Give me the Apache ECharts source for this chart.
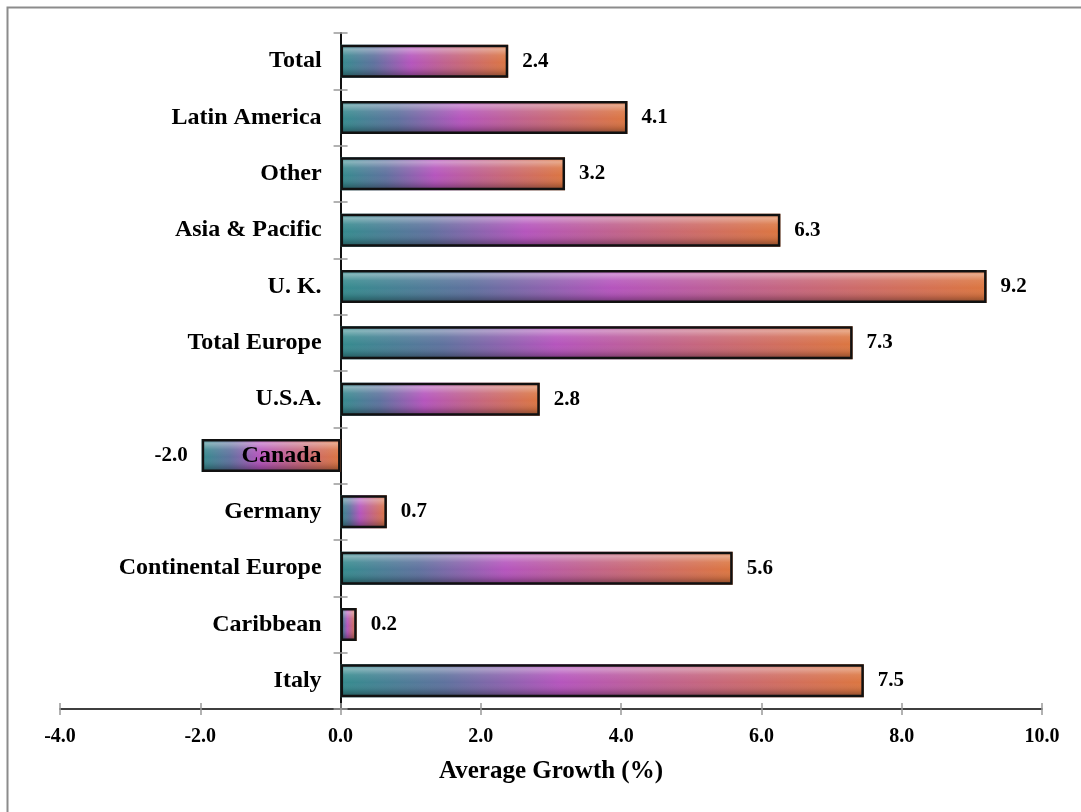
<!DOCTYPE html>
<html>
<head>
<meta charset="utf-8">
<title>Average Growth (%)</title>
<script src="https://cdn.jsdelivr.net/npm/echarts@6/dist/echarts.min.js"></script>
<style>
  html, body { margin: 0; padding: 0; background: #fff; }
  #chart { width: 1081px; height: 812px; }
</style>
</head>
<body>
<div id="chart"></div>
<script>
// categories listed top to bottom (axis is inverted)
const categories = [
  'Total', 'Latin America', 'Other', 'Asia & Pacific', 'U. K.', 'Total Europe',
  'U.S.A.', 'Canada', 'Germany', 'Continental Europe', 'Caribbean', 'Italy'
];
const growth = [2.39, 4.09, 3.2, 6.27, 9.21, 7.3, 2.84, -1.98, 0.66, 5.59, 0.23, 7.46];

const axisMin = -4;
const axisMax = 10;
const axisStep = 2;

const FONT = '"Liberation Serif", "Times New Roman", serif';

const chart = echarts.init(document.getElementById('chart'), null, { renderer: 'canvas' });

// left-to-right colour of every bar: teal -> magenta -> orange
const barFill = new echarts.graphic.LinearGradient(0, 0, 1, 0, [
  { offset: 0, color: '#358c8e' },
  { offset: 0.2, color: '#5f729e' },
  { offset: 0.42, color: '#b555bd' },
  { offset: 0.62, color: '#c0628e' },
  { offset: 1, color: '#dc7640' }
]);

// top highlight / bottom shade to fake the bevel
const bevel = new echarts.graphic.LinearGradient(0, 0, 0, 1, [
  { offset: 0, color: 'rgba(255,255,255,0.05)' },
  { offset: 0.14, color: 'rgba(255,255,255,0.38)' },
  { offset: 0.32, color: 'rgba(255,255,255,0.10)' },
  { offset: 0.55, color: 'rgba(255,255,255,0)' },
  { offset: 0.8, color: 'rgba(0,0,0,0.12)' },
  { offset: 1, color: 'rgba(0,0,0,0.40)' }
]);

const baseData = growth.map(v => ({
  value: v,
  label: { position: v < 0 ? 'left' : 'right' }
}));

// zero-length marks that carry the category names next to the 0 line
const nameAnchors = categories.map(() => 0);

chart.setOption({
  animation: false,
  textStyle: { fontFamily: FONT },
  graphic: [{
    type: 'rect',
    shape: { x: 7.5, y: 7.5, width: 1100, height: 820 },
    style: { fill: 'none', stroke: '#8c8c8c', lineWidth: 2 },
    silent: true
  }],
  grid: { left: 60, right: 39, top: 33, bottom: 103, containLabel: false, outerBoundsMode: 'none' },
  xAxis: [{
    type: 'value',
    position: 'bottom',
    min: axisMin,
    max: axisMax,
    interval: axisStep,
    splitLine: { show: false },
    axisLine: { show: true, lineStyle: { color: '#000', width: 1.5 } },
    axisTick: { show: true, length: 6, lineStyle: { color: '#999', width: 1.5 } },
    axisLabel: {
      margin: 18,
      fontFamily: FONT, fontSize: 20, fontWeight: 'bold', color: '#000',
      formatter: v => v.toFixed(1)
    },
    name: 'Average Growth (%)',
    nameLocation: 'middle',
    nameGap: 50,
    nameTextStyle: { fontFamily: FONT, fontSize: 25, fontWeight: 'bold', color: '#000' }
  }, {
    // inner half of the crossing ticks
    type: 'value',
    position: 'bottom',
    min: axisMin,
    max: axisMax,
    interval: axisStep,
    splitLine: { show: false },
    axisLine: { show: false },
    axisTick: { show: true, inside: true, length: 6, lineStyle: { color: '#999', width: 1.5 } },
    axisLabel: { show: false }
  }],
  yAxis: [{
    type: 'category',
    data: categories,
    inverse: true,
    axisLine: { show: true, onZero: true, lineStyle: { color: '#000', width: 1.5 } },
    axisTick: { show: true, length: 7, lineStyle: { color: '#999', width: 1.5 } },
    axisLabel: { show: false }
  }, {
    type: 'category',
    data: categories,
    inverse: true,
    position: 'left',
    axisLine: { show: true, onZero: true, lineStyle: { color: '#000', width: 1.5 } },
    axisTick: { show: true, inside: true, length: 7, lineStyle: { color: '#999', width: 1.5 } },
    axisLabel: { show: false }
  }],
  series: [{
    type: 'bar',
    data: baseData,
    barWidth: 33,
    itemStyle: { color: barFill },
    label: {
      show: true,
      distance: 14,
      fontFamily: FONT, fontSize: 21, fontWeight: 'bold', color: '#000',
      formatter: p => p.value.toFixed(1)
    },
    z: 2
  }, {
    type: 'bar',
    data: growth,
    barWidth: 33,
    barGap: '-100%',
    silent: true,
    itemStyle: { color: bevel, borderColor: '#111', borderWidth: 2.5 },
    label: { show: false },
    z: 3
  }, {
    // category names, right-aligned against the zero line
    type: 'bar',
    data: nameAnchors,
    barWidth: 33,
    barGap: '-100%',
    silent: true,
    itemStyle: { color: 'transparent' },
    label: {
      show: true,
      position: 'left',
      distance: 19,
      fontFamily: FONT, fontSize: 24, fontWeight: 'bold', color: '#000',
      formatter: p => p.name
    },
    z: 5
  }]
});
</script>
</body>
</html>
